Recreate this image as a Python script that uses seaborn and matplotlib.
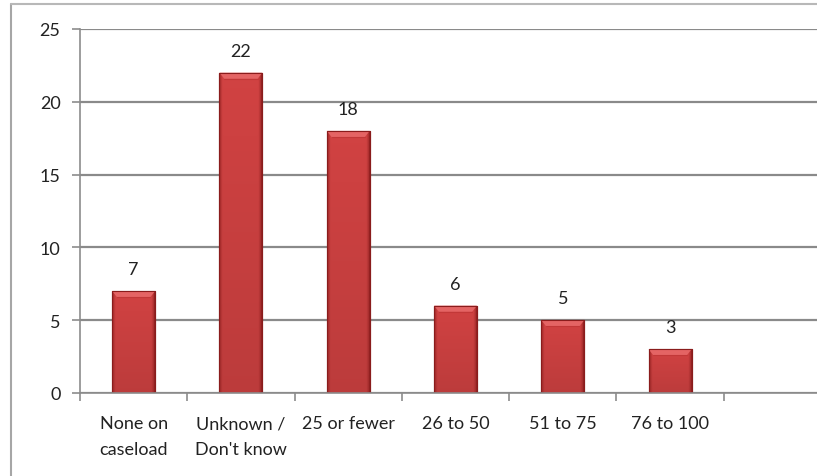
import numpy as np
import pandas as pd
import matplotlib
matplotlib.use("Agg")
import matplotlib.pyplot as plt
import seaborn as sns

categories = ["None on\ncaseload", "Unknown /\nDon't know", "25 or fewer",
              "26 to 50", "51 to 75", "76 to 100", ""]
counts = [7, 22, 18, 6, 5, 3, np.nan]
y_ticks = [0, 5, 10, 15, 20, 25]

df = pd.DataFrame({"category": categories, "count": counts})

sns.set_theme(style="white")
plt.rcParams["font.family"] = ["Lato", "DejaVu Sans"]

W, H = 817, 477
fig = plt.figure(figsize=(W / 100, H / 100), dpi=100)
fig.patch.set_facecolor("white")

# outer chart frame (top and left edges visible)
fig.add_artist(plt.Line2D([11 / W, 11 / W], [0, 1 - 5 / H], color="#a6a6a6", lw=1.5))
fig.add_artist(plt.Line2D([11 / W, 1], [1 - 5 / H, 1 - 5 / H], color="#b8b8b8", lw=1.5))

left, right = 80 / W, 831 / W
bottom, top = 1 - 394 / H, 1 - 30 / H
ax = fig.add_axes([left, bottom, right - left, top - bottom])

sns.barplot(data=df, x="category", y="count", ax=ax, color="#d24242",
            width=0.4, edgecolor="#8a1c1c", linewidth=0.8, saturation=1)

ax.set_xlim(-0.5, 6.5)
ax.set_ylim(0, 25)
ax.set_yticks(y_ticks)
ax.set_xlabel("")
ax.set_ylabel("")
for s in ["top", "right"]:
    ax.spines[s].set_visible(False)
for s in ["left", "bottom"]:
    ax.spines[s].set_color("#8c8c8c")
    ax.spines[s].set_linewidth(1.2)

ax.yaxis.grid(True, color="#8a8a8a", linewidth=1.6)
ax.set_axisbelow(True)

# category ticks sit on the boundaries between bars
ax.set_xticks(np.arange(7) - 0.5, minor=True)
ax.tick_params(axis="x", which="major", length=0, pad=16, labelsize=13, colors="#222222")
ax.tick_params(axis="x", which="minor", length=6, width=1.2, color="#8c8c8c", direction="out", bottom=True)
ax.tick_params(axis="y", length=6, width=1.2, color="#8c8c8c", direction="out", left=True,
               labelsize=13, colors="#222222", pad=8)
for lab in ax.get_xticklabels():
    lab.set_linespacing(1.75)
    lab.set_verticalalignment("top")

# bar shading: flat red body, darker sides, slightly deeper towards the base
nx, ny = 64, 128
xs = np.linspace(0, 1, nx)
ys = np.linspace(0, 1, ny)[:, None]
side = np.clip(np.minimum(xs, 1 - xs) / 0.08, 0, 1) ** 0.6
base = np.array([0.82, 0.26, 0.26])
dark = np.array([0.55, 0.12, 0.12])
img = np.empty((ny, nx, 3))
for c in range(3):
    body = base[c] * (0.90 + 0.10 * ys)          # top row is ys=1 (origin lower)
    img[:, :, c] = dark[c] + (body - dark[c]) * side

for patch in list(ax.patches):
    x0, y0 = patch.get_x(), patch.get_y()
    w, h = patch.get_width(), patch.get_height()
    if not np.isfinite(h) or h <= 0:
        continue
    z = patch.get_zorder()
    im = ax.imshow(img, origin="lower", aspect="auto", interpolation="bilinear",
                   extent=[x0, x0 + w, y0, y0 + h], zorder=z + 0.1)
    im.set_clip_path(patch)
    # bevelled top cap
    bh, bx = 0.42, 0.045
    ax.fill([x0, x0 + w, x0 + w - bx, x0 + bx], [y0 + h, y0 + h, y0 + h - bh, y0 + h - bh],
            color="#e46464", lw=0, zorder=z + 0.2)
    ax.plot([x0 + bx, x0 + w - bx], [y0 + h - bh, y0 + h - bh], color="#c23838",
            lw=0.8, zorder=z + 0.25)
    ax.add_patch(plt.Rectangle((x0, y0), w, h, fill=False, edgecolor="#8a1c1c",
                               lw=0.8, zorder=z + 0.3))

for i, v in enumerate(counts):
    if np.isfinite(v):
        ax.annotate(f"{v:g}", (i, v), xytext=(0, 10), textcoords="offset points",
                    ha="center", va="bottom", fontsize=13, color="#222222")

ax.set_xlim(-0.5, 6.5)
ax.set_ylim(0, 25)
fig.savefig("out.png", dpi=100, facecolor="white")
